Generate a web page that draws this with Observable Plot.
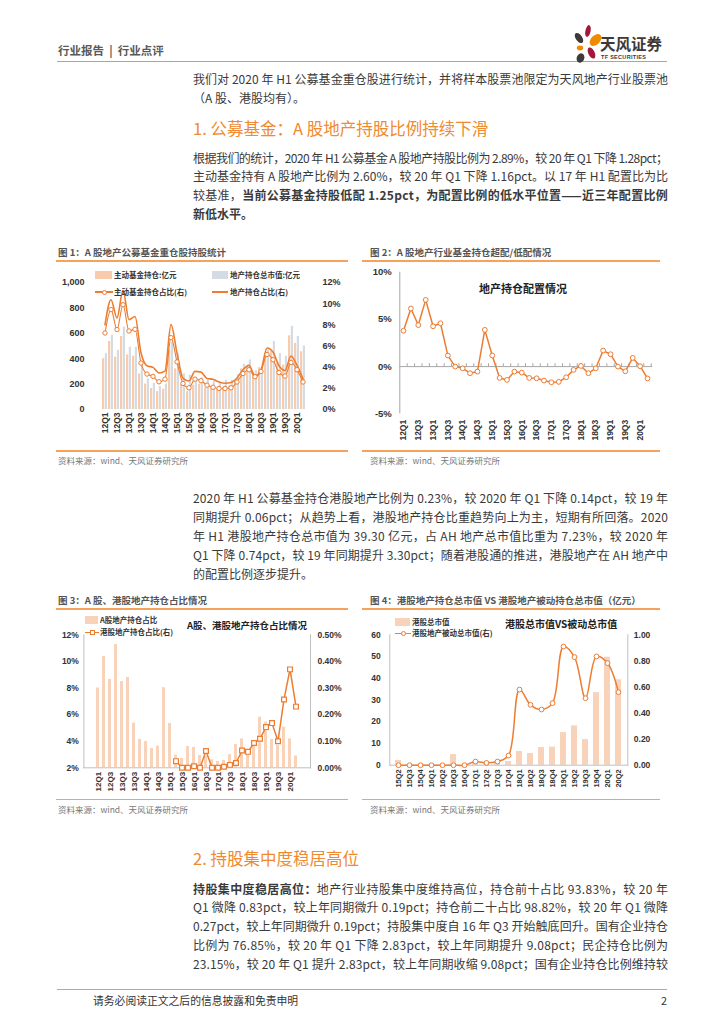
<!DOCTYPE html>
<html><head><meta charset="utf-8">
<script src="https://cdn.jsdelivr.net/npm/d3@7"></script>
<script src="https://cdn.jsdelivr.net/npm/@observablehq/plot@0.6"></script>
<style>
html,body{margin:0;padding:0;background:#fff}
#page{position:relative;width:724px;height:1024px;overflow:hidden;font-family:"Noto Sans CJK SC","Liberation Sans",sans-serif;color:#333}
.a{position:absolute;white-space:nowrap}
.ln{position:absolute;left:193px;height:19px;line-height:19px;white-space:nowrap;font-size:12px;color:#3a3a3a}
.rule{position:absolute;background:#F5A35A;height:1.5px}
.ctitle{font-size:9.5px;font-weight:bold;color:#555;line-height:12px}
.src{font-size:8.5px;color:#777;line-height:11px}
.lg{font-size:7.5px;font-weight:bold;color:#333;line-height:10px}
.sw{position:absolute}
</style></head><body><div id="page"></div>
<script>
// ---------------- DATA ----------------
const quarters = ["12Q1","12Q2","12Q3","12Q4","13Q1","13Q2","13Q3","13Q4","14Q1","14Q2","14Q3","14Q4","15Q1","15Q2","15Q3","15Q4","16Q1","16Q2","16Q3","16Q4","17Q1","17Q2","17Q3","17Q4","18Q1","18Q2","18Q3","18Q4","19Q1","19Q2","19Q3","19Q4","20Q1","20Q2"];
const tickQ = ["12Q1","12Q3","13Q1","13Q3","14Q1","14Q3","15Q1","15Q3","16Q1","16Q3","17Q1","17Q3","18Q1","18Q3","19Q1","19Q3","20Q1"];
// Fig 1: 主动基金持仓 (亿元), 地产持仓总市值 (亿元)
const activeHold = [400,535,412,575,430,420,280,200,165,140,160,465,320,200,140,190,200,170,165,160,175,185,230,320,330,285,330,440,460,370,350,580,520,455];
const totalHold  = [440,584,466,650,490,489,360,240,205,180,200,530,440,280,270,250,250,230,225,215,230,230,275,355,390,305,310,470,535,440,420,655,575,500];
// 主动基金持仓占比 (%), 地产持仓占比 (%)
const activePct = [7.23,9.44,7.55,9.9,7.42,7.58,4.39,3.35,3.13,2.62,2.87,6.79,4.5,2.46,2.05,2.87,2.72,2.3,2.1,1.99,1.99,2.05,2.6,3.4,3.76,3.1,3.6,5.2,4.7,3.5,3.16,4.45,3.76,2.6];
const allPct    = [8.0,10.37,8.64,11.27,8.49,8.79,5.36,4.13,3.98,3.45,3.63,8.02,5.33,2.95,2.70,3.60,3.53,2.93,2.85,2.6,2.48,2.55,2.98,3.75,4.17,3.18,3.73,5.81,5.43,4.13,3.68,5.06,4.17,2.89];
// Fig 2: 地产持仓配置情况 (%)
const alloc = [3.8,6.15,4.4,7.07,4.27,4.59,1.17,0,-0.18,-0.7,-0.53,3.89,1.17,-1.2,-1.41,-0.53,-0.64,-1.2,-1.24,-1.48,-1.66,-1.62,-1.13,-0.35,0.07,-0.7,-0.18,1.7,1.31,0,-0.5,0.92,0.04,-1.25];
// Fig 3/4: HK quarters
const hkQuarters = ["15Q2","15Q3","15Q4","16Q1","16Q2","16Q3","16Q4","17Q1","17Q2","17Q3","17Q4","18Q1","18Q2","18Q3","18Q4","19Q1","19Q2","19Q3","19Q4","20Q1","20Q2"];
const hkPct = [0.025,0,0,0.006,0,0.063,0,0,0.004,0.011,0.018,0.065,0.06,0.093,0.109,0.153,0.168,0.10,0.257,0.37,0.23];
const hkValue = [2.15,0,0,0,0,4.9,0,0.8,0.6,1.0,1.7,6.3,5.4,8.1,8.3,15.0,18.1,11.8,33.4,49.7,39.3];
const hkPassive = [0,0,0,0,0,0,0,0.028,0.018,0.028,0.074,0.58,0.463,0.427,0.476,0.91,0.829,0.514,0.834,0.783,0.56];

// ---------------- PAGE TEXT ----------------
const page = document.getElementById("page");
function div(cls, html, left, top, style){const d=document.createElement("div");d.className=cls;d.innerHTML=html;d.style.left=left+"px";d.style.top=top+"px";if(style)d.setAttribute("style",d.getAttribute("style")+";"+style);page.appendChild(d);return d;}
function rule(left, top, width, color, h){const d=document.createElement("div");d.className="rule";d.style.left=left+"px";d.style.top=top+"px";d.style.width=width+"px";if(color)d.style.background=color;if(h)d.style.height=h+"px";page.appendChild(d);}
function textLine(html, cy, justify){
  const d=document.createElement("div");d.className="ln";d.innerHTML=html;d.style.top=(cy-9.5)+"px";page.appendChild(d);
  if(justify){const w=d.getBoundingClientRect().width;const n=d.textContent.length;d.style.letterSpacing=((475-w)/(n-1))+"px";}
}
// header
div("a",'行业报告 &nbsp;|&nbsp; 行业点评',58,42,"font-size:11.5px;font-weight:bold;color:#595959;line-height:16px");
rule(57,60.5,610,"#F39A1E",1.6);
page.insertAdjacentHTML("beforeend",`<svg style="position:absolute;left:570px;top:22px" width="36" height="44" viewBox="570 22 36 44">
<ellipse cx="588" cy="31" rx="2.6" ry="6" transform="rotate(12 588 31)" fill="#A3173B"/>
<ellipse cx="595.5" cy="40" rx="4.5" ry="7" transform="rotate(45 595.5 40)" fill="#F08A00"/>
<ellipse cx="579" cy="38" rx="3.2" ry="5.8" transform="rotate(-35 579 38)" fill="#3E3A39"/>
<ellipse cx="580" cy="48" rx="3.2" ry="2.4" fill="#F08A00"/>
<ellipse cx="591.5" cy="53" rx="3.2" ry="6" transform="rotate(-25 591.5 53)" fill="#A3173B"/>
<ellipse cx="580.5" cy="58" rx="3.8" ry="4.8" transform="rotate(20 580.5 58)" fill="#3E3A39"/></svg>`);
div("a","天风证券",600,35,"font-size:15.5px;font-weight:bold;color:#3E3A39;line-height:16px");
div("a","TF SECURITIES",601,53.5,"font-size:5.5px;font-weight:bold;color:#3E3A39;line-height:6px;letter-spacing:0.3px;font-family:'Liberation Sans'");

textLine("我们对 2020 年 H1 公募基金重仓股进行统计，并将样本股票池限定为天风地产行业股票池",78,true);
textLine("（A 股、港股均有）。",97,false);
div("a","1. 公募基金：A 股地产持股比例持续下滑",193,117,"font-size:16.5px;color:#EF8A30;line-height:22px");
textLine("根据我们的统计，2020 年 H1 公募基金 A 股地产持股比例为 2.89%，较 20 年 Q1 下降 1.28pct；",157,true);
textLine("主动基金持有 A 股地产比例为 2.60%，较 20 年 Q1 下降 1.16pct。以 17 年 H1 配置比为比",175.7,true);
textLine("较基准，<b>当前公募基金持股低配 1.25pct，为配置比例的低水平位置——近三年配置比例</b>",194.4,true);
textLine("<b>新低水平。</b>",213,false);

textLine("2020 年 H1 公募基金持仓港股地产比例为 0.23%，较 2020 年 Q1 下降 0.14pct，较 19 年",497,true);
textLine("同期提升 0.06pct；从趋势上看，港股地产持仓比重趋势向上为主，短期有所回落。2020",516,true);
textLine("年 H1 港股地产持仓总市值为 39.30 亿元，占 AH 地产总市值比重为 7.23%，较 2020 年",535,true);
textLine("Q1 下降 0.74pct，较 19 年同期提升 3.30pct；随着港股通的推进，港股地产在 AH 地产中",554,true);
textLine("的配置比例逐步提升。",573,false);

div("a","2. 持股集中度稳居高位",193,847,"font-size:16.5px;color:#EF8A30;line-height:22px");
textLine("<b>持股集中度稳居高位：</b>地产行业持股集中度维持高位，持仓前十占比 93.83%，较 20 年",888,true);
textLine("Q1 微降 0.83pct，较上年同期微升 0.19pct；持仓前二十占比 98.82%，较 20 年 Q1 微降",906.8,true);
textLine("0.27pct，较上年同期微升 0.19pct；持股集中度自 16 年 Q3 开始触底回升。国有企业持仓",925.6,true);
textLine("比例为 76.85%，较 20 年 Q1 下降 2.83pct，较上年同期提升 9.08pct；民企持仓比例为",944.4,true);
textLine("23.15%，较 20 年 Q1 提升 2.83pct，较上年同期收缩 9.08pct；国有企业持仓比例维持较",963.2,true);

rule(57,988.5,610,"#F0A030",1.8);
div("a","请务必阅读正文之后的信息披露和免责申明",93,992,"font-size:10.8px;color:#333;line-height:16px");
div("a","2",661,992,"font-size:10.8px;color:#333;line-height:16px");

// chart frames
const src = "资料来源：wind、天风证券研究所";
div("a ctitle","图 1：A 股地产公募基金重仓股持股统计",58,246);
rule(56,260,292); rule(56,450,292);
div("a src",src,58,455);
div("a ctitle","图 2：A 股地产行业基金持仓超配/低配情况",370,246);
rule(362,260,298); rule(362,450,298);
div("a src",src,370,455);
div("a ctitle","图 3：A 股、港股地产持仓占比情况",58,594);
rule(56,608,292); rule(56,798.5,292);
div("a src",src,58,804);
div("a ctitle","图 4：港股地产持仓总市值 VS 港股地产被动持仓总市值（亿元）",370,594);
rule(362,608,298); rule(362,798.5,298);
div("a src",src,370,804);

// ---------------- CHARTS ----------------
const font = '"Liberation Sans","Noto Sans CJK SC",sans-serif';
const baseStyle = {fontFamily: font, fontSize: "8.5px", fontWeight: "bold", color: "#333", background: "transparent", overflow: "visible"};
const ORANGE = "#ED7D31", PEACH = "#F8CBAD", GREY = "#D5DBE3";
function put(svg, left, top){svg.style.position="absolute";svg.style.left=left+"px";svg.style.top=top+"px";svg.style.maxWidth="none";page.appendChild(svg);}

// Figure 1
const c1 = quarters.map((q,i)=>({q, act: activeHold[i], tot: totalHold[i], actPct: activePct[i], allPct: allPct[i]}));
const band1 = {type:"band", domain: quarters, paddingInner:0.12, paddingOuter:0.06};
const dims1 = {width:295, height:188, marginLeft:40, marginRight:37, marginTop:20, marginBottom:41};
put(Plot.plot({...dims1, style: baseStyle, x: band1, y:{domain:[0,1000]},
  marks:[
    Plot.barY(c1,{x:"q", y:"act", fill:PEACH, insetRight:2.8}),
    Plot.barY(c1,{x:"q", y:"tot", fill:GREY, insetLeft:2.8}),
    Plot.axisY({ticks:[0,200,400,600,800,1000], tickFormat:d3.format(","), tickSize:0, tickPadding:11, fontSize:9, label:null}),
    Plot.axisX({ticks:tickQ, tickRotate:-90, tickSize:0, tickPadding:3, fontSize:8.5, label:null})
  ]}),55,262);
put(Plot.plot({...dims1, style: baseStyle, x:{...band1, axis:null}, y:{domain:[0,12]},
  marks:[
    Plot.line(c1,{x:"q", y:"allPct", stroke:ORANGE, strokeWidth:1.6, curve:"monotone-x"}),
    Plot.line(c1,{x:"q", y:"actPct", stroke:ORANGE, strokeWidth:1.1, curve:"monotone-x"}),
    Plot.dot(c1,{x:"q", y:"actPct", r:2.2, fill:"white", stroke:ORANGE, strokeWidth:1}),
    Plot.axisY({anchor:"right", ticks:[0,2,4,6,8,10,12], tickFormat:d=>d+"%", tickSize:0, tickPadding:9, fontSize:9, label:null})
  ]}),55,262);
// legend 1
page.insertAdjacentHTML("beforeend",`
<div class="sw" style="left:95px;top:271px;width:17px;height:8px;background:${PEACH}"></div>
<div class="sw" style="left:212px;top:271px;width:16px;height:8px;background:${GREY}"></div>
<div class="sw" style="left:95px;top:291.3px;width:18px;height:1.4px;background:${ORANGE}"></div>
<div class="sw" style="left:101.5px;top:289.5px;width:3.5px;height:3.5px;border:1px solid ${ORANGE};border-radius:50%;background:#fff"></div>
<div class="sw" style="left:212px;top:291.3px;width:16px;height:1.6px;background:${ORANGE}"></div>`);
div("a lg","主动基金持仓:亿元",114,270);
div("a lg","地产持仓总市值:亿元",230,270);
div("a lg","主动基金持仓占比(右)",114,287);
div("a lg","地产持仓占比(右)",230,287);

// Figure 2
const c2 = quarters.map((q,i)=>({i, q, v: alloc[i]}));
put(Plot.plot({width:300, height:188, marginLeft:39.3, marginRight:9.3, marginTop:9.7, marginBottom:36.7, style: baseStyle,
  x:{domain:[-0.5,33.5]}, y:{domain:[-5,10]},
  marks:[
    Plot.ruleX([-0.5],{y1:-5, y2:10, stroke:"#A6A6A6"}),
    Plot.ruleY([0],{x1:-0.5, x2:33.7, stroke:"#A6A6A6"}),
    Plot.ruleX(c2,{x:d=>d.i+0.5, y1:0, y2:0.3, stroke:"#A6A6A6"}),
    Plot.line(c2,{x:"i", y:"v", stroke:ORANGE, strokeWidth:1.5}),
    Plot.dot(c2,{x:"i", y:"v", r:2.4, fill:"white", stroke:ORANGE, strokeWidth:1}),
    Plot.axisY({ticks:[-5,0,5,10], tickFormat:d=>d+"%", tickSize:0, tickPadding:8, fontSize:9.5, label:null}),
    Plot.axisX({ticks:tickQ.map(q=>quarters.indexOf(q)), tickFormat:i=>quarters[i], tickRotate:-90, tickSize:0, tickPadding:6, fontSize:8.5, label:null})
  ]}),360,262);
div("a","地产持仓配置情况",479,281,"font-size:11px;font-weight:bold;color:#222;line-height:14px");

// Figure 3
const c3 = quarters.map((q,i)=>({q, v: allPct[i]}));
const c3h = hkQuarters.map((q,i)=>({q, v: hkPct[i]}));
const band3 = {type:"band", domain: quarters, paddingInner:0.5, paddingOuter:0.25};
const dims3 = {width:295, height:189, marginLeft:28.4, marginRight:40, marginTop:24.3, marginBottom:31.7};
put(Plot.plot({...dims3, style: baseStyle, x: band3, y:{domain:[2,12]},
  marks:[
    Plot.barY(c3,{x:"q", y:"v", fill:"#F9D3B9", clip:true}),
    Plot.frame({anchor:"left", stroke:"#BFBFBF"}),
    Plot.frame({anchor:"right", stroke:"#BFBFBF"}),
    Plot.frame({anchor:"bottom", stroke:"#BFBFBF"}),
    Plot.axisY({ticks:[2,4,6,8,10,12], tickFormat:d=>d+"%", tickSize:0, tickPadding:5, fontSize:8.5, label:null}),
    Plot.axisX({ticks:tickQ, tickRotate:-90, tickSize:0, tickPadding:4, fontSize:8, label:null})
  ]}),55,610);
put(Plot.plot({...dims3, style: baseStyle, x:{...band3, axis:null}, y:{domain:[0,0.5]},
  marks:[
    Plot.line(c3h,{x:"q", y:"v", stroke:ORANGE, strokeWidth:1.5}),
    Plot.dot(c3h,{x:"q", y:"v", symbol:"square", r:2.7, fill:"white", stroke:ORANGE, strokeWidth:1.2}),
    Plot.axisY({anchor:"right", ticks:[0,0.1,0.2,0.3,0.4,0.5], tickFormat:d=>d.toFixed(2)+"%", tickSize:0, tickPadding:7, fontSize:8.5, label:null})
  ]}),55,610);
page.insertAdjacentHTML("beforeend",`
<div class="sw" style="left:85px;top:616px;width:13px;height:8px;background:#F9D3B9"></div>
<div class="sw" style="left:85px;top:631.5px;width:14px;height:1.4px;background:${ORANGE}"></div>
<div class="sw" style="left:89.5px;top:629.5px;width:3.5px;height:3.5px;border:1px solid ${ORANGE};background:#fff"></div>`);
div("a lg","A股地产持仓占比",100,615);
div("a lg","港股地产持仓占比(右)",100,627);
div("a","A股、港股地产持仓占比情况",187,619,"font-size:9.5px;font-weight:bold;color:#222;line-height:13px");

// Figure 4
const c4 = hkQuarters.map((q,i)=>({q, mv: hkValue[i], pv: hkPassive[i]}));
const band4 = {type:"band", domain: hkQuarters, paddingInner:0.45, paddingOuter:0.225};
const dims4 = {width:300, height:189, marginLeft:29.3, marginRight:32.7, marginTop:24.3, marginBottom:34.3};
put(Plot.plot({...dims4, style: baseStyle, x: band4, y:{domain:[0,60]},
  marks:[
    Plot.barY(c4,{x:"q", y:"mv", fill:"#F9D3B9"}),
    Plot.frame({anchor:"left", stroke:"#BFBFBF"}),
    Plot.frame({anchor:"right", stroke:"#BFBFBF"}),
    Plot.frame({anchor:"bottom", stroke:"#BFBFBF"}),
    Plot.axisY({ticks:[0,10,20,30,40,50,60], tickSize:0, tickPadding:9, fontSize:8.5, label:null}),
    Plot.axisX({tickRotate:-90, tickSize:0, tickPadding:4, fontSize:7.5, label:null})
  ]}),360,610);
put(Plot.plot({...dims4, style: baseStyle, x:{...band4, axis:null}, y:{domain:[0,1]},
  marks:[
    Plot.line(c4,{x:"q", y:"pv", stroke:ORANGE, strokeWidth:1.5, curve:"catmull-rom"}),
    Plot.dot(c4,{x:"q", y:"pv", r:2.4, fill:"white", stroke:ORANGE, strokeWidth:1}),
    Plot.axisY({anchor:"right", ticks:[0,0.2,0.4,0.6,0.8,1], tickFormat:d3.format(".2f"), tickSize:0, tickPadding:6, fontSize:8.5, label:null})
  ]}),360,610);
page.insertAdjacentHTML("beforeend",`
<div class="sw" style="left:395px;top:618px;width:15px;height:8px;background:#F9D3B9"></div>
<div class="sw" style="left:395px;top:632.6px;width:16px;height:1.4px;background:${ORANGE}"></div>
<div class="sw" style="left:400.5px;top:630.8px;width:3.5px;height:3.5px;border:1px solid ${ORANGE};border-radius:50%;background:#fff"></div>`);
div("a lg","港股总市值",412,617);
div("a lg","港股地产被动总市值(右)",412,628);
div("a","港股总市值VS被动总市值",505,617,"font-size:10px;font-weight:bold;color:#222;line-height:13px");
</script></body></html>
